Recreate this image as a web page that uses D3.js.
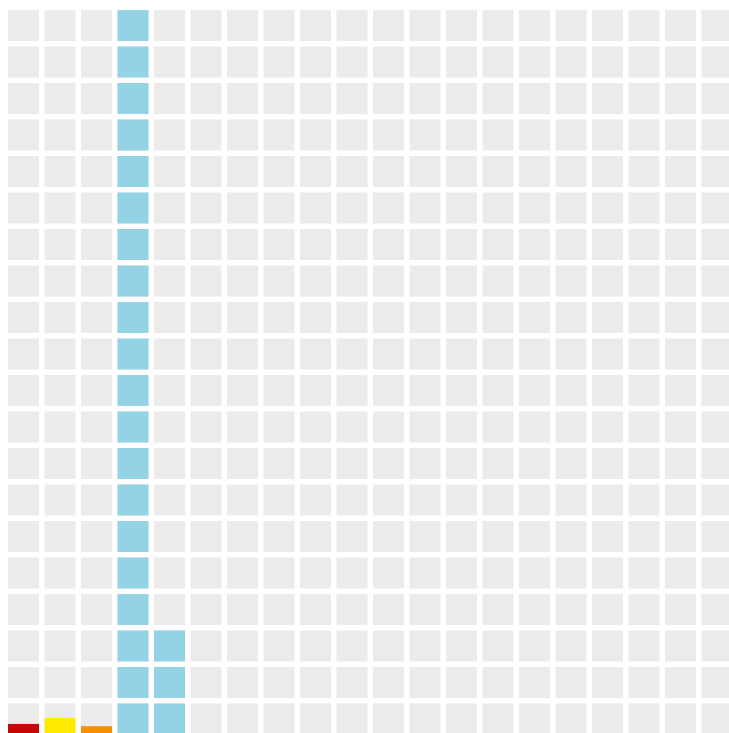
<!DOCTYPE html>
<html>
<head>
<meta charset="utf-8">
<script src="https://cdn.jsdelivr.net/npm/d3@7"></script>
<style>
  body { margin: 0; background: #fff; overflow: hidden; }
</style>
</head>
<body>
<div id="main"></div>
<script>
const Width = 729, Height = 733;
const nCols = 20, nRows = 20;

// filled units per column (a fraction means a part filled cell at the bottom)
const columns = [0, 1, 2, 3, 4];
const values = [0.34, 0.53, 0.27, 20, 3];
const colors = ["#c40709", "#ffea00", "#f59100", "#94d3e5", "#94d3e5"];

const svg = d3.select("#main")
    .append("svg")
    .attr("width", Width)
    .attr("height", Height)
;

let Xscale = d3.scaleBand().domain(d3.range(nCols)).range([8, 732.5]).paddingInner(0.15).paddingOuter(0);
let Yscale = d3.scaleBand().domain(d3.range(nRows)).range([10, 734.5]).paddingInner(0.15).paddingOuter(0);

// background grid
let cells = [];
for (let c = 0; c < nCols; c++) {
    for (let r = 0; r < nRows; r++) cells.push({c: c, r: r});
}
svg.append("g").selectAll("rect").data(cells).enter().append("rect")
    .attr("x", d => Xscale(d.c)).attr("y", d => Yscale(d.r))
    .attr("width", Xscale.bandwidth()).attr("height", Yscale.bandwidth())
    .attr("fill", "#ebebeb");

// filled units, stacked from the bottom row up
let units = [];
columns.forEach(function (c, i) {
    let v = values[i];
    let k = 0;
    while (v > 0) {
        let f = Math.min(1, v);
        units.push({c: c, r: nRows - 1 - k, f: f, color: colors[i]});
        v -= f;
        k++;
    }
});
let bw = Yscale.bandwidth();
svg.append("g").selectAll("rect").data(units).enter().append("rect")
    .attr("x", d => Xscale(d.c))
    .attr("y", d => Yscale(d.r) + bw * (1 - d.f))
    .attr("width", Xscale.bandwidth()).attr("height", d => bw * d.f)
    .attr("fill", d => d.color);
</script>
</body>
</html>
